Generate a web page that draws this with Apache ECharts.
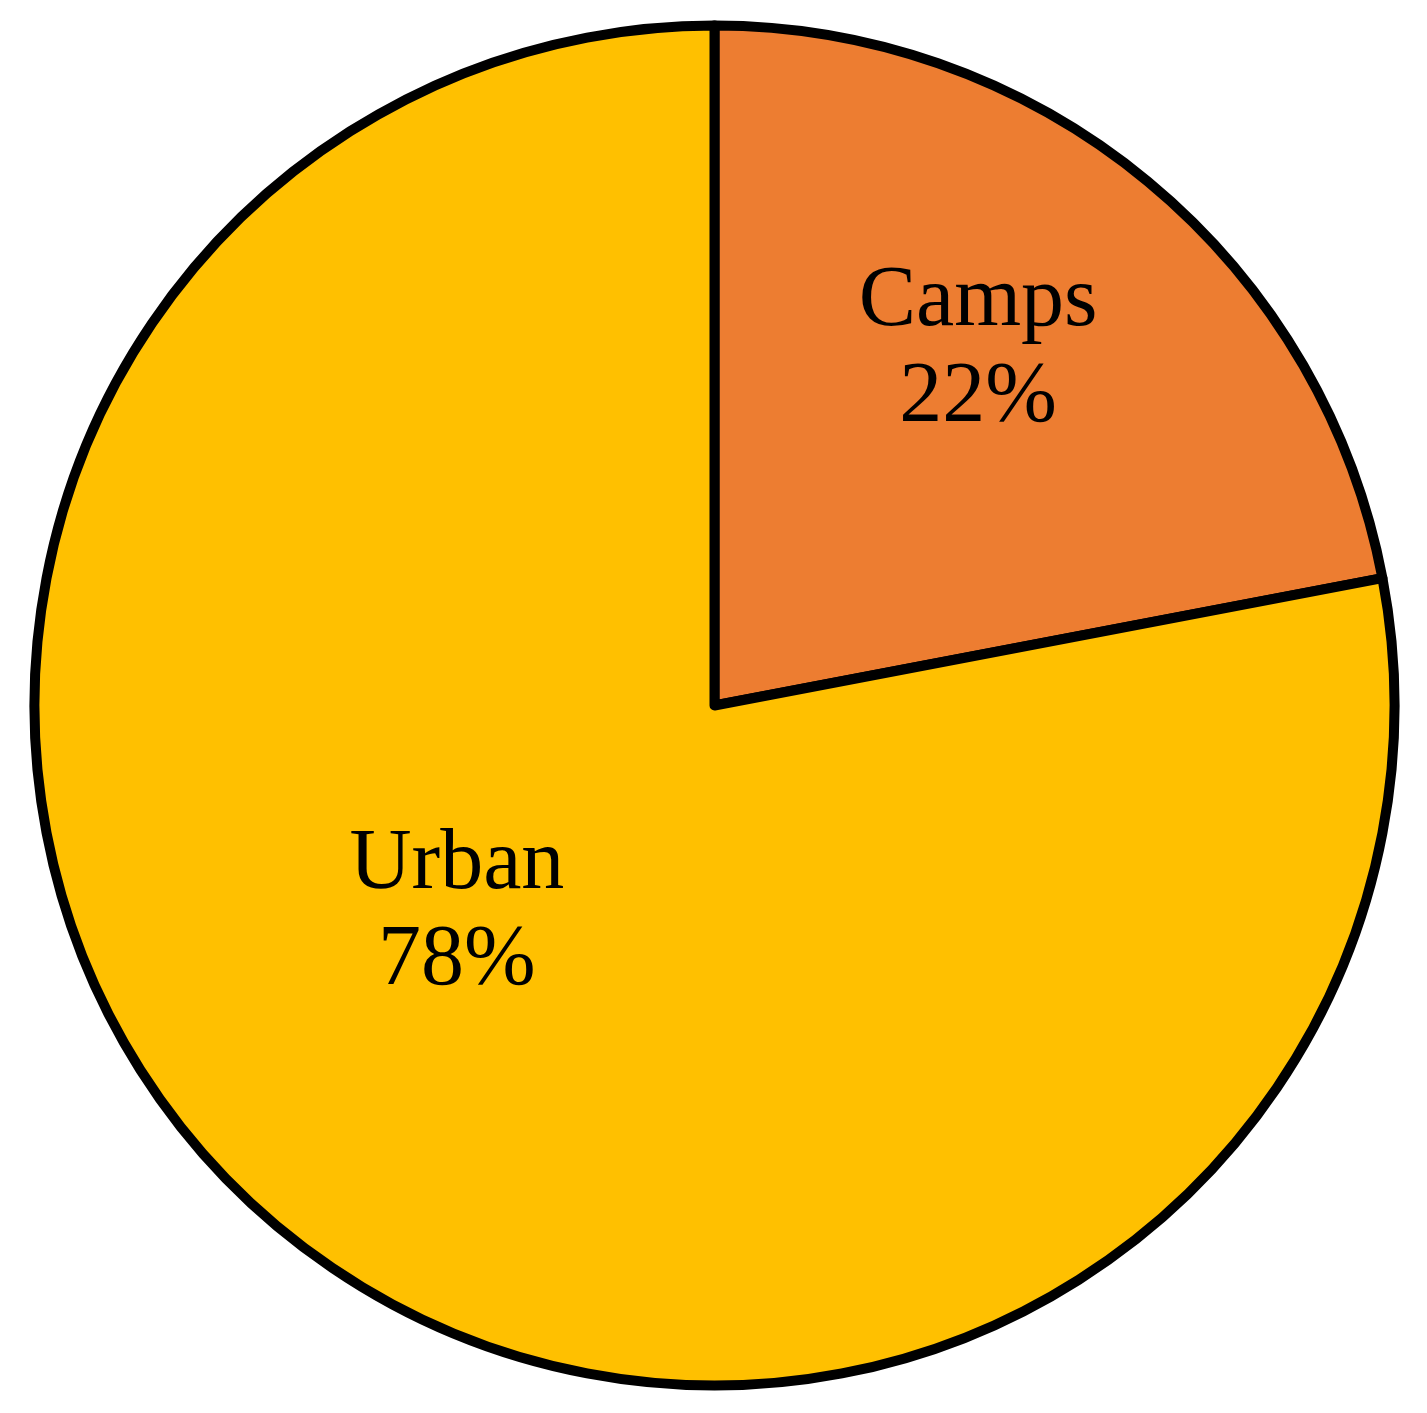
<!DOCTYPE html>
<html>
<head>
<meta charset="utf-8">
<script src="https://cdn.jsdelivr.net/npm/echarts@6/dist/echarts.min.js"></script>
<style>
html,body{margin:0;padding:0;background:#fff;}
#chart{width:1427px;height:1413px;}
</style>
</head>
<body>
<div id="chart"></div>
<script>
const categories = ['Camps', 'Urban'];
const values = [22, 78];
const colors = ['#ED7D31', '#FFC000'];

const labelShift = [[45, -91], [-39, -56]];

const chart = echarts.init(document.getElementById('chart'), null, {renderer: 'canvas'});
chart.setOption({
  animation: false,
  backgroundColor: '#ffffff',
  series: [{
    type: 'pie',
    center: [714.5, 705.5],
    radius: [0, 680],
    startAngle: 90,
    clockwise: true,
    avoidLabelOverlap: false,
    data: categories.map((c, i) => ({
      name: c,
      value: values[i],
      itemStyle: {color: colors[i]}
    })),
    itemStyle: {borderColor: '#000000', borderWidth: 10},
    label: {
      show: true,
      position: 'inside',
      formatter: '{b}\n{c}%',
      fontFamily: '"Liberation Serif", "Times New Roman", serif',
      fontSize: 86,
      lineHeight: 96,
      color: '#000000',
      align: 'center'
    },
    labelLine: {show: false},
    labelLayout: function (params) {
      const s = labelShift[params.dataIndex];
      return {dx: s[0], dy: s[1]};
    },
    emphasis: {disabled: true}
  }]
});
</script>
</body>
</html>
